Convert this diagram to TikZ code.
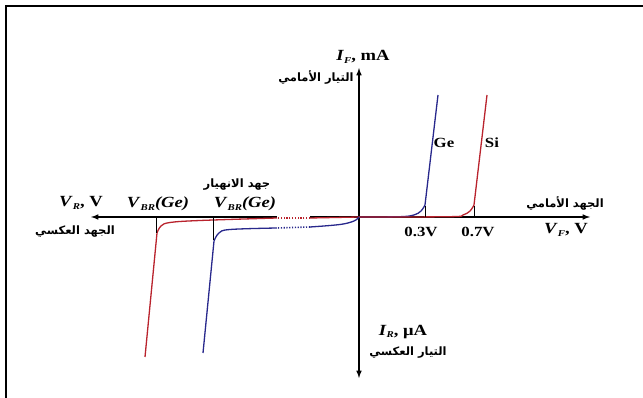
\documentclass[tikz,border=0pt]{standalone}
\usepackage{fontspec}
\setmainfont[FakeStretch=1.2]{Liberation Serif}
\newfontfamily\arabicfont[Script=Arabic]{DejaVu Sans}
\TeXXeTstate=1
\definecolor{sired}{RGB}{185,35,45}
\definecolor{geblue}{RGB}{40,40,140}
\newcommand{\ar}[1]{\arabicfont\beginR #1\endR}
\newcommand{\sub}[1]{\raisebox{-0.35ex}{\fontsize{9}{10}\selectfont\textit{#1}}}

\begin{document}
\begin{tikzpicture}[x=1pt,y=1pt,
        axis/.style={line width=1.5pt, -latex},
        curve/.style={line width=1.3pt},
        gapline/.style={line width=1.6pt, dash pattern=on 1.2pt off 1.6pt},
        tickline/.style={line width=0.8pt},
        lbl/.style={font=\fontsize{15.5}{17}\selectfont\bfseries, inner sep=0pt},
        arlbl/.style={font=\bfseries\fontsize{11.5}{13}\selectfont, inner sep=0pt}]
        \useasboundingbox (0,0) rectangle (643,398);
        % Frame
        \draw[line width=2.5pt] (6,0) -- (6,392) -- (643,392);

        % Axes
        \coordinate (O) at (359,181);
        \coordinate (top) at (359,330);
        \coordinate (bot) at (359,20);
        \coordinate (right) at (590,181);
        \coordinate (left) at (91,181);
        \coordinate (gapA) at (310,181);
        \coordinate (gapB) at (277,181);
        \draw[axis] (O) -- (top);
        \draw[axis] (O) -- (bot);
        \draw[axis] (O) -- (right);
        \draw[line width=1.5pt] (O) -- (gapA);
        \draw[axis] (gapB) -- (left);

        % Axis labels
        \node[lbl] (IF) at (363,341) {\textit{I}\sub{F}, mA};
        \node[arlbl] (IFar) at (316,321) {\ar{التيار الأمامي}};
        \node[lbl] (IR) at (403,66) {\textit{I}\sub{R}, μA};
        \node[arlbl] (IRar) at (408,45) {\ar{التيار العكسي}};
        \node[lbl] (VF) at (566,168) {\textit{V}\sub{F}, V};
        \node[arlbl] (VFar) at (565,195) {\ar{الجهد الأمامي}};
        \node[lbl] (VR) at (81,195) {\textit{V}\sub{R}, V};
        \node[arlbl] (VRar) at (75,166) {\ar{الجهد العكسي}};

        % Breakdown labels
        \node[lbl] (bra) at (158,194) {\textit{V}\sub{BR}\textit{(Ge)}};
        \node[lbl] (brb) at (245,194) {\textit{V}\sub{BR}\textit{(Ge)}};
        \node[arlbl] (brar) at (237,213) {\ar{جهد الانهيار}};

        % Knee voltages
        \node[lbl, font=\fontsize{14}{16}\selectfont\bfseries] (v03) at (421,166) {0.3V};
        \node[lbl, font=\fontsize{14}{16}\selectfont\bfseries] (v07) at (478,166) {0.7V};
        \node[lbl, font=\fontsize{14}{16}\selectfont\bfseries] (ge) at (444,255) {Ge};
        \node[lbl, font=\fontsize{14}{16}\selectfont\bfseries] (si) at (492,255) {Si};

        % Forward curves
        \draw[curve, geblue] plot [smooth, tension=0.6] coordinates {(359,181) (400,181.3) (414,183) (421,187) (425,193)} -- (438,303);
        \draw[curve, sired] plot [smooth, tension=0.6] coordinates {(359,181) (450,181.3) (463,183) (470,187) (474,193)} -- (487,303);
        \draw[tickline] (425,181) -- (425,192);
        \draw[tickline] (474,181) -- (474,192);

        % Reverse curves
        \draw[curve, sired] (359,181) -- (310,180);
        \draw[gapline, sired] (310,180) -- (277,180);
        \draw[curve, sired] plot [smooth, tension=0.6] coordinates {(277,180) (200,177.5) (170,175.5) (161,172) (157,165)} -- (145,41);
        \draw[curve, geblue] plot [smooth, tension=0.6] coordinates {(359,181) (354,177) (340,173.5) (310,171)};
        \draw[gapline, geblue] (310,171) -- (277,170);
        \draw[curve, geblue] plot [smooth, tension=0.6] coordinates {(277,170) (230,168.5) (219,165) (214,157)} -- (203,45);
        \draw[tickline] (156,181) -- (156,165);
        \draw[tickline] (213,181) -- (213,158);
\end{tikzpicture}
\end{document}
